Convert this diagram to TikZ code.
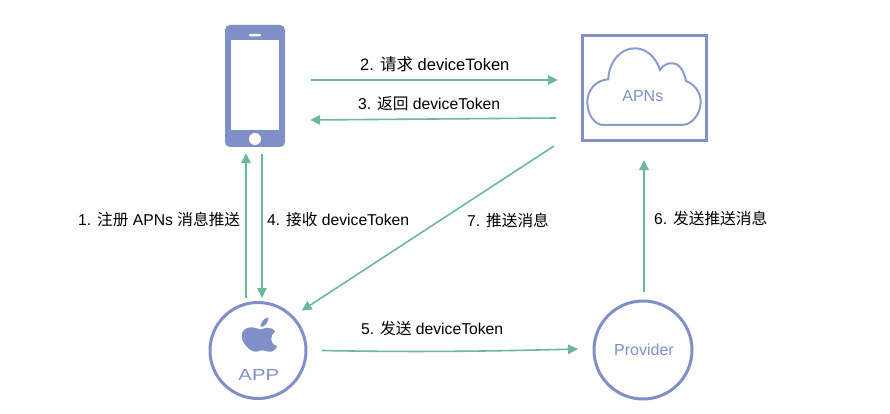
\documentclass[tikz,border=0pt]{standalone}
\usepackage{graphicx}
\usepackage{fontspec}
\setmainfont{Liberation Sans}
\newfontfamily\cjk{Noto Sans CJK SC}
\usetikzlibrary{arrows.meta,calc}
\definecolor{arrowgreen}{HTML}{6CB89D}
\definecolor{iconblue}{HTML}{7F90C8}
\tikzset{
  conn/.style={draw=arrowgreen,line width=1.6pt,-{Triangle[length=10pt,width=9.5pt]}},
  lbl/.style={font=\fontsize{15.7}{17}\selectfont,text=black,inner sep=0pt,anchor=west},
  ring/.style={circle,draw=iconblue,line width=3pt,minimum size=96pt,inner sep=0pt},
  iconlbl/.style={text=iconblue,inner sep=0pt},
}
\begin{document}
\begin{tikzpicture}[x=1pt,y=-1pt]
\useasboundingbox (0,0) rectangle (890,414);
% phone
\node[fill=iconblue,rounded corners=5pt,minimum width=60pt,minimum height=122pt,inner sep=0pt] (phone) at (255,86) {};
\fill[white] (231,40) rectangle (279,130);
\fill[white,rounded corners=1pt] (249,33.8) rectangle (261,36.4);
\fill[white] (255,139) circle (6pt);
% APNs
\node[draw=iconblue,line width=3pt,minimum width=124pt,minimum height=105pt,inner sep=0pt] (apns) at (644,88.5) {};
\draw[iconblue!90,line width=2pt]
  (603.3,125) -- (681.7,125)
  .. controls (692,125) and (700.7,114) .. (700.7,101.7)
  .. controls (700.7,92) and (694,84) .. (686,81)
  .. controls (684,70) and (678,63.3) .. (673.3,63.3)
  .. controls (668,62.5) and (663,65) .. (660,70)
  .. controls (656,57) and (646,48.3) .. (635,48.3)
  .. controls (620,48.3) and (609,62) .. (608.3,79.3)
  .. controls (596,80) and (587.3,90) .. (587.3,101.7)
  .. controls (587.3,115) and (595,125) .. (603.3,125) -- cycle;
\node[iconlbl,font=\fontsize{16}{18}\selectfont] (apnstext) at (642.8,96.5) {APNs};
% APP
\node[ring] (app) at (258,350.5) {};
\fill[iconblue]
  (260,329.5)
  .. controls (264,329) and (270,325) .. (275,331.5)
  .. controls (270,335) and (269,344) .. (277.3,346)
  .. controls (275,351) and (271,352.5) .. (268,351.5)
  .. controls (263,350) and (261,350) .. (257,351.5)
  .. controls (250,353) and (241.5,342) .. (241.7,336)
  .. controls (242,328) and (250,325) .. (260,329.5) -- cycle;
\fill[iconblue] (260.5,327) .. controls (260.5,322) and (264,318) .. (268.5,317.5)
  .. controls (268.5,322) and (265,327) .. (260.5,327) -- cycle;
\node[iconlbl,font=\fontsize{16}{18}\selectfont] (apptext) at (258.8,375) {\scalebox{1.27}[1]{APP}};
% Provider
\node[ring,minimum size=98pt] (provider) at (643,350) {};
\node[iconlbl,font=\fontsize{16}{18}\selectfont] (providertext) at (644,350) {Provider};
% connectors
\draw[conn] ([xshift=26pt,yshift=6pt]phone.east) -- ([xshift=-22.5pt,yshift=8.5pt]apns.west);
\draw[conn] ([xshift=-24.5pt,yshift=-29.5pt]apns.west) -- ([xshift=25pt,yshift=-34pt]phone.east);
\draw[conn] ([xshift=-12pt,yshift=3pt]app.north) -- ([xshift=-9pt,yshift=-6pt]phone.south);
\draw[conn] ([xshift=7pt,yshift=-7pt]phone.south) -- ([xshift=4pt,yshift=3pt]app.north);
\draw[conn] ([xshift=-26.5pt,yshift=-57.5pt]apns.west) -- ([xshift=8.7pt,yshift=4.8pt]app.north east);
\draw[conn] ([xshift=14.5pt]app.east) .. controls (420,352.5) and (500,351) .. ([xshift=-14.5pt,yshift=1pt]provider.west);
\draw[conn] ([xshift=1pt,yshift=7.5pt]provider.north) -- ([yshift=-17.5pt]apns.south);
% labels
\node[lbl,font=\fontsize{16.5}{18}\selectfont] (l2) at (360,64.5) {2. {\cjk 请求} deviceToken};
\node[lbl] (l3) at (358,104) {3. {\cjk 返回} deviceToken};
\node[lbl] (l1) at (78,220) {1. {\cjk 注册} APNs {\cjk 消息推送}};
\node[lbl] (l4) at (267,220) {4. {\cjk 接收} deviceToken};
\node[lbl] (l7) at (467,220) {7. {\cjk 推送消息}};
\node[lbl] (l6) at (654,218) {6. {\cjk 发送推送消息}};
\node[lbl] (l5) at (361,329) {5. {\cjk 发送} deviceToken};
\end{tikzpicture}
\end{document}
